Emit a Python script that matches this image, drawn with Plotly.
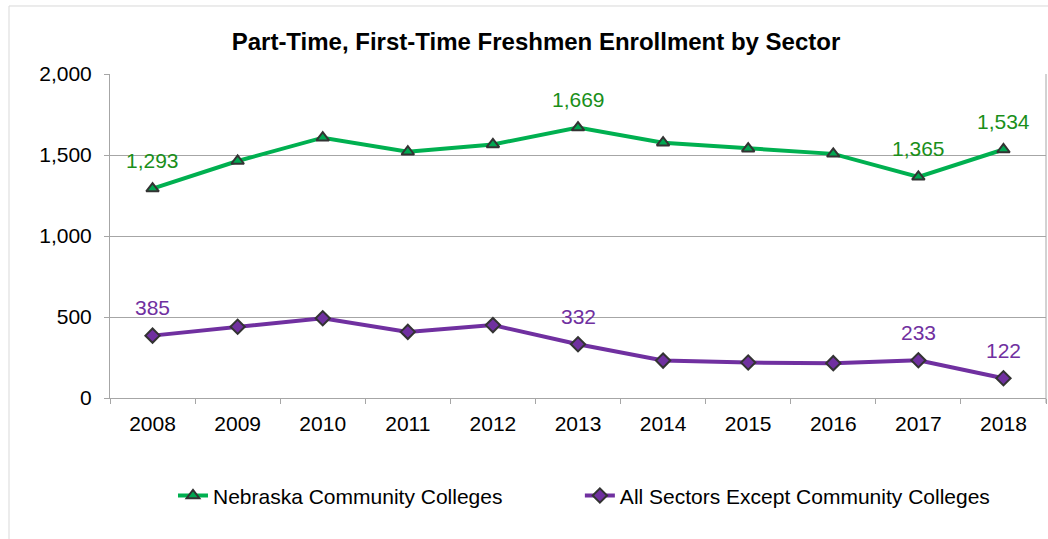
import plotly.graph_objects as go

years = ["2008", "2009", "2010", "2011", "2012", "2013", "2014", "2015", "2016", "2017", "2018"]
community = [1293, 1463, 1607, 1520, 1565, 1669, 1576, 1539, 1507, 1365, 1534]
other_sectors = [385, 440, 492, 408, 450, 332, 231, 219, 215, 233, 122]
labelled_years = ["2008", "2013", "2017", "2018"]

GREEN_LINE = "#00B050"
GREEN_TEXT = "#1A8F1A"
PURPLE = "#7030A0"
GRID = "#A6A6A6"
FONT = "Liberation Sans, Arial, sans-serif"

fig = go.Figure()
fig.add_trace(go.Scatter(
    x=years, y=community, mode="lines+markers",
    name="Nebraska Community Colleges", legend="legend",
    line=dict(color=GREEN_LINE, width=4),
    marker=dict(symbol="triangle-up", size=11, color="#00A650",
                line=dict(color="#333333", width=2)),
))
fig.add_trace(go.Scatter(
    x=years, y=other_sectors, mode="lines+markers",
    name="All Sectors Except Community Colleges", legend="legend2",
    line=dict(color=PURPLE, width=4),
    marker=dict(symbol="diamond", size=11, color=PURPLE,
                line=dict(color="#333333", width=2)),
))

# value labels above selected points (x given as category index)
annotations = []
for series, color in ((community, GREEN_TEXT), (other_sectors, PURPLE)):
    for i, (yr, val) in enumerate(zip(years, series)):
        if yr in labelled_years:
            annotations.append(dict(
                x=i, y=val, xref="x", yref="y", text=f"{val:,}",
                showarrow=False, yshift=28, yanchor="middle",
                font=dict(family=FONT, size=21, color=color),
            ))

legend_font = dict(family=FONT, size=21, color="#000000")

fig.update_layout(
    width=1048, height=539,
    margin=dict(l=110, r=2, t=74, b=141),
    paper_bgcolor="white", plot_bgcolor="white",
    font=dict(family=FONT, size=21, color="#000000"),
    title=dict(text="<b>Part-Time, First-Time Freshmen Enrollment by Sector</b>",
               xref="container", yref="container", x=536 / 1048, y=1 - 42 / 539,
               xanchor="center", yanchor="middle",
               font=dict(family=FONT, size=24, color="#000000")),
    showlegend=True,
    legend=dict(orientation="h", x=0.0673, xanchor="left", y=-0.302, yanchor="middle",
                font=legend_font),
    legend2=dict(orientation="h", x=0.502, xanchor="left", y=-0.302, yanchor="middle",
                 font=legend_font),
    annotations=annotations,
    shapes=[
        dict(type="rect", xref="paper", yref="paper", x0=-0.1079, x1=1.2, y0=-0.6, y1=1.2099,
             line=dict(color="#D9D9D9", width=1), fillcolor="rgba(0,0,0,0)", layer="below"),
        dict(type="line", xref="paper", yref="paper", x0=1, x1=1, y0=-0.016, y1=1,
             line=dict(color=GRID, width=1)),
    ],
)
fig.update_xaxes(
    type="category", range=[-0.5, len(years) - 0.5], showline=True, linecolor=GRID, linewidth=1,
    ticks="outside", tickson="boundaries", ticklen=5, tickcolor=GRID, tickangle=0,
    ticklabelstandoff=7,
    showgrid=False, tickfont=dict(family=FONT, size=21, color="#000000"),
)
fig.update_yaxes(
    range=[0, 2000], dtick=500, tickformat=",", showline=True, linecolor=GRID, linewidth=1,
    ticks="outside", ticklen=5, tickcolor=GRID, ticklabelstandoff=8,
    showgrid=True, gridcolor=GRID, gridwidth=1, zeroline=False,
    tickfont=dict(family=FONT, size=21, color="#000000"),
)

fig.write_html("out.html")
